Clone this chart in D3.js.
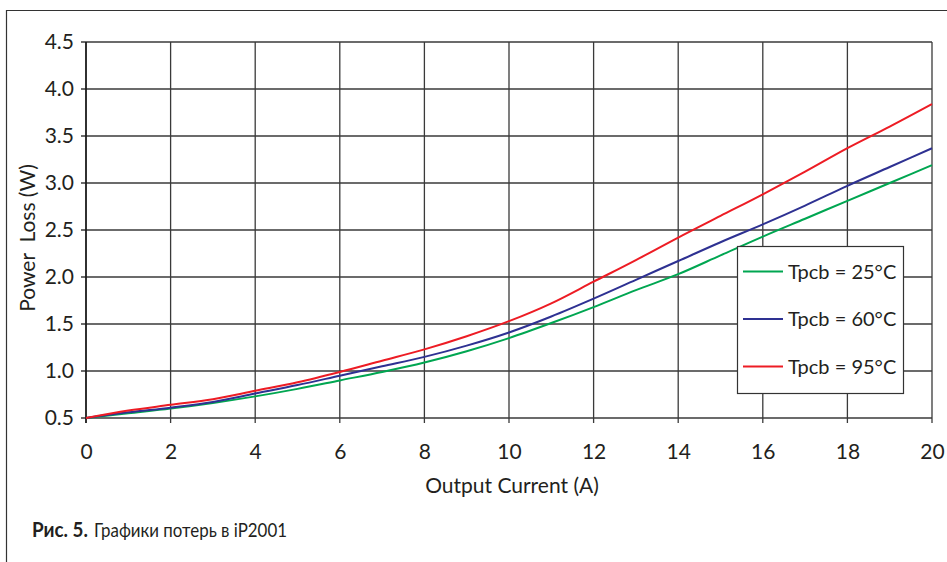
<!DOCTYPE html>
<html><head><meta charset="utf-8">
<script src="https://cdn.jsdelivr.net/npm/d3@7"></script>
<style>
html,body{margin:0;padding:0;background:#fff;}
svg{display:block;}
text{font-family:"Lato","Open Sans",sans-serif;fill:#231f20;}
</style></head>
<body>
<svg id="chart" width="947" height="562"></svg>
<script>
// ---- data ----
const currents = [0,1,2,3,4,5,6,7,8,9,10,11,12,13,14,15,16,17,18,19,20];
const loss25 = [0.50,0.55,0.60,0.66,0.73,0.81,0.90,0.99,1.09,1.21,1.35,1.51,1.68,1.86,2.03,2.23,2.43,2.62,2.81,3.00,3.19];
const loss60 = [0.50,0.56,0.61,0.67,0.76,0.85,0.95,1.05,1.15,1.27,1.41,1.58,1.77,1.97,2.17,2.37,2.56,2.76,2.97,3.17,3.37];
const loss95 = [0.50,0.58,0.64,0.70,0.79,0.88,0.99,1.11,1.23,1.37,1.53,1.72,1.95,2.18,2.42,2.65,2.88,3.12,3.37,3.60,3.84];
const seriesNames = ["Tpcb = 25°C","Tpcb = 60°C","Tpcb = 95°C"];
const seriesColors = ["#00a651","#2e3192","#ed1c24"];
const xTicks = [0,2,4,6,8,10,12,14,16,18,20];
const yTicks = [0.5,1.0,1.5,2.0,2.5,3.0,3.5,4.0,4.5];
const xTitle = "Output Current (A)";
const yTitle = "Power  Loss (W)";
const captionBold = "Рис. 5.";
const captionText = "Графики потерь в iP2001";

const svg = d3.select("#chart");
const L = 86, R = 932, T = 42, B = 418;
const x = d3.scaleLinear().domain([0,20]).range([L,R]);
const y = d3.scaleLinear().domain([0.5,4.5]).range([B,T]);

// frame (top + left border lines)
svg.append("line").attr("x1",6).attr("x2",947).attr("y1",10.5).attr("y2",10.5).attr("stroke","#333").attr("stroke-width",1.2);
svg.append("line").attr("x1",6.5).attr("x2",6.5).attr("y1",10).attr("y2",562).attr("stroke","#333").attr("stroke-width",1.2);

// grid
const grid = svg.append("g").attr("stroke","#3a3a3a").attr("stroke-width",1.3);
grid.selectAll(".vg").data(xTicks).join("line")
  .attr("x1",d=>x(d)).attr("x2",d=>x(d)).attr("y1",T).attr("y2",B+5);
grid.selectAll(".hg").data(yTicks).join("line")
  .attr("x1",L-5).attr("x2",R).attr("y1",d=>y(d)).attr("y2",d=>y(d));

// axes labels via d3 axes (tick text only)
const xAxis = svg.append("g").attr("transform",`translate(0,${B})`)
  .call(d3.axisBottom(x).tickValues(xTicks).tickFormat(d3.format("d")).tickSize(0).tickPadding(26));
xAxis.select(".domain").remove();
xAxis.selectAll("text").attr("font-size",21).attr("font-family","Lato, sans-serif").attr("fill","#231f20");

const yAxis = svg.append("g").attr("transform",`translate(${L},0)`)
  .call(d3.axisLeft(y).tickValues(yTicks).tickFormat(d3.format(".1f")).tickSize(0).tickPadding(12));
yAxis.select(".domain").remove();
yAxis.selectAll("text").attr("font-size",21).attr("font-family","Lato, sans-serif").attr("fill","#231f20");

// left axis line darker
svg.append("line").attr("x1",L).attr("x2",L).attr("y1",T).attr("y2",B+5).attr("stroke","#111").attr("stroke-width",1.4);

// lines
const data = [loss25, loss60, loss95];
const line = d3.line().x((d,i)=>x(currents[i])).y(d=>y(d)).curve(d3.curveMonotoneX);
svg.append("g").selectAll("path").data(data).join("path")
  .attr("d",d=>line(d)).attr("fill","none")
  .attr("stroke",(d,i)=>seriesColors[i]).attr("stroke-width",2);

// legend
const lg = svg.append("g");
lg.append("rect").attr("x",737.5).attr("y",246.5).attr("width",166).attr("height",147)
  .attr("fill","#fff").attr("stroke","#333").attr("stroke-width",1.2);
seriesNames.forEach((n,i)=>{
  const yy = 271.5 + i*47.5;
  lg.append("line").attr("x1",743).attr("x2",783).attr("y1",yy).attr("y2",yy)
    .attr("stroke",seriesColors[i]).attr("stroke-width",2);
  lg.append("text").attr("x",788).attr("y",yy+7).attr("font-size",20).text(n);
});

// titles
svg.append("text").attr("x",512).attr("y",493).attr("text-anchor","middle")
  .attr("font-size",21).text(xTitle);
svg.append("text").attr("transform",`translate(35,${(T+B)/2+8}) rotate(-90)`).attr("text-anchor","middle")
  .attr("font-size",21).attr("xml:space","preserve").text(yTitle);

// caption (two separate texts)
svg.append("text").attr("x",32).attr("y",537).attr("font-size",20).attr("font-weight","bold")
  .attr("textLength",56).attr("lengthAdjust","spacingAndGlyphs").text(captionBold);
svg.append("text").attr("x",94).attr("y",537).attr("font-size",20)
  .attr("textLength",193).attr("lengthAdjust","spacingAndGlyphs").text(captionText);
</script>
</body></html>
